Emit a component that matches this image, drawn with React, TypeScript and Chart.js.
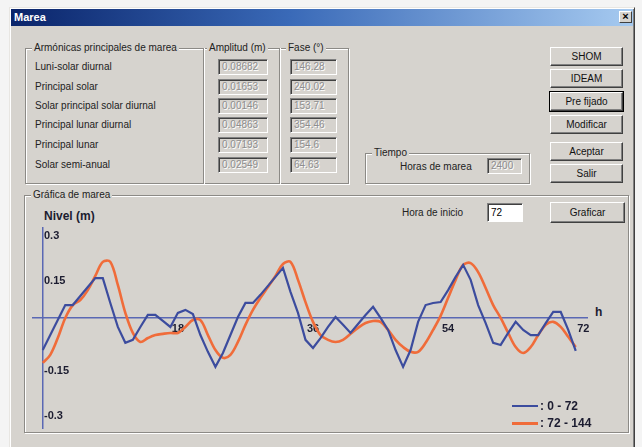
import React, { useEffect, useRef } from "react";
import { Chart, registerables } from "chart.js";

Chart.register(...registerables);

// ---------- data ----------
const hours = [
  0, 1, 2, 3, 4, 5, 6, 7, 8, 9, 10, 11, 12, 13, 14, 15, 16, 17, 18, 19, 20, 21, 22, 23,
  24, 25, 26, 27, 28, 29, 30, 31, 32, 33, 34, 35, 36, 37, 38, 39, 40, 41, 42, 43, 44, 45, 46, 47,
  48, 49, 50, 51, 52, 53, 54, 55, 56, 57, 58, 59, 60, 61, 62, 63, 64, 65, 66, 67, 68, 69, 70, 71,
];

// Nivel (m), horas 0 - 72
const serie0a72 = [
  -0.107, -0.057, -0.007, 0.043, 0.043, 0.073, 0.103, 0.133, 0.133, 0.05, -0.03, -0.083,
  -0.073, -0.03, 0.01, 0.01, -0.01, -0.03, 0.017, 0.027, 0.013, -0.057, -0.113, -0.163,
  -0.117, -0.057, 0.003, 0.05, 0.05, 0.077, 0.107, 0.137, 0.167, 0.087, 0.017, -0.073,
  -0.1, -0.067, -0.03, 0.003, -0.023, -0.05, -0.02, 0.01, 0.037, 0.0, -0.04, -0.107,
  -0.163, -0.107, -0.013, 0.043, 0.05, 0.053, 0.093, 0.137, 0.177, 0.127, 0.043, -0.017,
  -0.083, -0.09, -0.05, -0.013, -0.04, -0.057, -0.057, -0.017, 0.02, 0.02, -0.04, -0.11,
];

// Nivel (m), horas 72 - 144
const serie72a144 = [
  -0.15, -0.123, -0.067, 0.0, 0.043, 0.06, 0.093, 0.14, 0.187, 0.187, 0.11, 0.017,
  -0.05, -0.08, -0.067, -0.057, -0.053, -0.05, -0.05, -0.03, -0.007, -0.007, -0.057, -0.107,
  -0.133, -0.123, -0.08, -0.023, 0.027, 0.067, 0.103, 0.14, 0.18, 0.187, 0.127, 0.053,
  -0.013, -0.057, -0.073, -0.08, -0.073, -0.053, -0.033, -0.017, -0.01, -0.013, -0.04, -0.073,
  -0.097, -0.113, -0.113, -0.083, -0.04, 0.007, 0.067, 0.127, 0.177, 0.183, 0.153, 0.1,
  0.043, 0.0, -0.05, -0.097, -0.117, -0.097, -0.057, -0.023, -0.013, -0.03, -0.063, -0.097,
];

const seriesLabels = [": 0 - 72", ": 72 - 144"];
const xTickValues = [18, 36, 54, 72];
const yTickValues = [-0.3, -0.15, 0, 0.15, 0.3];
const yTickLabels = ["-0.3", "-0.15", "", "0.15", "0.3"];

const armonicas = [
  "Luni-solar diurnal",
  "Principal solar",
  "Solar principal solar diurnal",
  "Principal lunar diurnal",
  "Principal lunar",
  "Solar semi-anual",
];
const amplitudes = ["0.08682", "0.01653", "0.00146", "0.04863", "0.07193", "0.02549"];
const fases = ["146.28", "240.02", "153.71", "354.46", "154.6", "64.63"];
const botones = ["SHOM", "IDEAM", "Pre fijado", "Modificar", "Aceptar", "Salir"];

// ---------- styles ----------
const GREY = "#d6d3ce";
const BLUE = "#3c4c9e";
const ORANGE = "#f06c3a";
const AXIS = "#5a68b4";
const FONT = "'Liberation Sans', Arial, sans-serif";

const abs = (x: number, y: number, w?: number, h?: number): React.CSSProperties => ({
  position: "absolute",
  left: x,
  top: y,
  width: w,
  height: h,
  boxSizing: "border-box",
});

function Group(props: { x: number; y: number; w: number; h: number; label: string }) {
  const { x, y, w, h, label } = props;
  return (
    <>
      <div
        style={{
          ...abs(x, y, w, h),
          border: "1px solid #8c8a86",
          boxShadow: "inset 1px 1px 0 #fff, 1px 1px 0 #fff",
        }}
      />
      <div
        style={{
          ...abs(x + 7, y - 7),
          background: GREY,
          padding: "0 2px",
          fontSize: 10,
          color: "#222",
          whiteSpace: "nowrap",
          lineHeight: "13px",
        }}
      >
        {label}
      </div>
    </>
  );
}

function Field(props: { x: number; y: number; w: number; h: number; value: string; enabled?: boolean }) {
  const { x, y, w, h, value, enabled } = props;
  return (
    <div
      style={{
        ...abs(x, y, w, h),
        background: enabled ? "#fff" : GREY,
        borderTop: "1px solid #808080",
        borderLeft: "1px solid #808080",
        borderRight: "1px solid #fff",
        borderBottom: "1px solid #fff",
        boxShadow: "inset 1px 1px 0 #404040",
        fontSize: 10,
        color: enabled ? "#000" : "#8e8e8e",
        textShadow: enabled ? "none" : "1px 1px 0 #fff",
        paddingLeft: 3,
        lineHeight: `${h - 2}px`,
        whiteSpace: "nowrap",
        overflow: "hidden",
      }}
    >
      {value}
    </div>
  );
}

function Button(props: { x: number; y: number; w: number; h: number; label: string; isDefault?: boolean }) {
  const { x, y, w, h, label, isDefault } = props;
  return (
    <div
      style={{
        ...abs(x, y, w, h),
        background: GREY,
        borderTop: "1px solid #fff",
        borderLeft: "1px solid #fff",
        borderRight: "1px solid #404040",
        borderBottom: "1px solid #404040",
        boxShadow: isDefault ? "inset -1px -1px 0 #808080, 0 0 0 1px #000" : "inset -1px -1px 0 #808080",
        fontSize: 10,
        color: "#111",
        textAlign: "center",
        lineHeight: `${h - 2}px`,
      }}
    >
      {label}
    </div>
  );
}

function TideChart() {
  const ref = useRef<HTMLCanvasElement | null>(null);
  useEffect(() => {
    if (!ref.current) return;
    const tickFont = { family: FONT, size: 11, weight: "bold" as const };
    const chart = new Chart(ref.current, {
      type: "line",
      data: {
        datasets: [
          {
            label: seriesLabels[0],
            data: hours.map((h, i) => ({ x: h, y: serie0a72[i] })),
            borderColor: BLUE,
            borderWidth: 2.2,
            pointRadius: 0,
            tension: 0,
            fill: false,
          },
          {
            label: seriesLabels[1],
            data: hours.map((h, i) => ({ x: h, y: serie72a144[i] })),
            borderColor: ORANGE,
            borderWidth: 2.6,
            pointRadius: 0,
            tension: 0.35,
            fill: false,
          },
        ],
      },
      options: {
        animation: false,
        responsive: true,
        maintainAspectRatio: false,
        layout: { padding: { left: 11, right: 36, top: 20, bottom: 20 } },
        plugins: { legend: { display: false }, tooltip: { enabled: false } },
        scales: {
          x: {
            type: "linear",
            min: -1.3,
            max: 72.5,
            position: { y: 0 } as any,
            afterBuildTicks: (s: any) => {
              s.ticks = xTickValues.map((v) => ({ value: v }));
            },
            ticks: { font: tickFont, color: "#1c1c30", padding: 4, autoSkip: false, maxRotation: 0 },
            grid: { drawOnChartArea: false, drawTicks: false },
            border: { color: AXIS, width: 1.5 },
          },
          y: {
            type: "linear",
            min: -0.367,
            max: 0.3,
            position: { x: 0 } as any,
            afterBuildTicks: (s: any) => {
              s.ticks = yTickValues.map((v) => ({ value: v }));
            },
            ticks: { display: false },
            grid: { drawOnChartArea: false, drawTicks: false },
            border: { color: AXIS, width: 1.5 },
          },
          yLabels: {
            type: "linear",
            min: -0.367,
            max: 0.3,
            position: "left",
            afterBuildTicks: (s: any) => {
              s.ticks = yTickValues.map((v) => ({ value: v }));
            },
            ticks: {
              mirror: true,
              padding: 11,
              labelOffset: 8,
              font: tickFont,
              color: "#1c1c30",
              autoSkip: false,
              callback: (_v: any, i: number) => yTickLabels[i],
            },
            grid: { display: false, drawTicks: false },
            border: { display: false },
          },
        },
      },
    });
    return () => chart.destroy();
  }, []);
  return (
    <div style={{ ...abs(0, 208, 623, 240) }}>
      <canvas ref={ref} />
    </div>
  );
}

export default function App() {
  const rowY = [67, 87, 106, 125, 145, 165];
  const btnY = [47, 69, 92, 115, 142, 164];
  return (
    <div
      style={{
        position: "fixed",
        left: 0,
        top: 0,
        width: 642,
        height: 447,
        background: "#f4f4f4",
        fontFamily: FONT,
        overflow: "hidden",
      }}
    >
      {/* window */}
      <div
        style={{
          ...abs(9, 7, 626, 442),
          background: GREY,
          borderTop: "1px solid #e8e6e2",
          borderLeft: "1px solid #e8e6e2",
          borderRight: "1px solid #404040",
          borderBottom: "1px solid #404040",
          boxShadow: "inset 1px 1px 0 #fff, inset -1px -1px 0 #808080",
        }}
      />
      {/* title bar */}
      <div
        style={{
          ...abs(11, 9, 622, 17),
          background: "linear-gradient(to right, #0a246a 0%, #3a6ab8 45%, #a6caf0 100%)",
          color: "#fff",
          fontWeight: "bold",
          fontSize: 11,
          lineHeight: "17px",
          paddingLeft: 3,
        }}
      >
        Marea
      </div>
      <div
        style={{
          ...abs(619, 11, 13, 12),
          background: GREY,
          borderTop: "1px solid #fff",
          borderLeft: "1px solid #fff",
          borderRight: "1px solid #404040",
          borderBottom: "1px solid #404040",
          fontSize: 11,
          fontWeight: "bold",
          lineHeight: "9px",
          textAlign: "center",
          color: "#000",
        }}
      >
        ×
      </div>

      {/* harmonics group */}
      <Group x={25} y={48} w={324} h={136} label="Armónicas principales de marea" />
      <div style={{ ...abs(203, 48, 2, 136), borderLeft: "1px solid #8c8a86", borderRight: "1px solid #fff" }} />
      <div style={{ ...abs(279, 48, 2, 136), borderLeft: "1px solid #8c8a86", borderRight: "1px solid #fff" }} />
      <div style={{ ...abs(207, 41), background: GREY, padding: "0 2px", fontSize: 10, lineHeight: "13px", color: "#222" }}>
        Amplitud (m)
      </div>
      <div style={{ ...abs(286, 41), background: GREY, padding: "0 2px", fontSize: 10, lineHeight: "13px", color: "#222" }}>
        Fase (°)
      </div>
      {armonicas.map((a, i) => (
        <div key={a} style={{ ...abs(35, rowY[i] - 7), fontSize: 10, lineHeight: "14px", color: "#222", whiteSpace: "nowrap" }}>
          {a}
        </div>
      ))}
      {amplitudes.map((v, i) => (
        <Field key={"a" + i} x={218} y={rowY[i] - 8} w={50} h={16} value={v} />
      ))}
      {fases.map((v, i) => (
        <Field key={"f" + i} x={290} y={rowY[i] - 8} w={47} h={16} value={v} />
      ))}

      {/* tiempo group */}
      <Group x={365} y={153} w={165} h={31} label="Tiempo" />
      <div style={{ ...abs(400, 160), fontSize: 10, lineHeight: "14px", color: "#222" }}>Horas de marea</div>
      <Field x={487} y={158} w={35} h={16} value="2400" />

      {/* buttons */}
      {botones.map((b, i) => (
        <Button key={b} x={550} y={btnY[i]} w={73} h={19} label={b} isDefault={b === "Pre fijado"} />
      ))}

      {/* chart group */}
      <Group x={24} y={195} w={605} h={238} label="Gráfica de marea" />
      <div style={{ ...abs(402, 206), fontSize: 10, lineHeight: "14px", color: "#222" }}>Hora de inicio</div>
      <Field x={487} y={203} w={36} h={19} value="72" enabled />
      <Button x={550} y={202} w={75} h={21} label="Graficar" />

      <div style={{ ...abs(44, 209), fontSize: 12, fontWeight: "bold", color: "#1c1c30", lineHeight: "14px" }}>
        Nivel (m)
      </div>
      <div style={{ ...abs(595, 305), fontSize: 12, fontWeight: "bold", color: "#1c1c30", lineHeight: "14px" }}>h</div>

      <TideChart />

      {/* legend */}
      {[BLUE, ORANGE].map((c, i) => (
        <React.Fragment key={c}>
          <div style={{ ...abs(512, (i === 0 ? 406 : 423) - 1, 26, i === 0 ? 2 : 3), background: c }} />
          <div
            style={{
              ...abs(540, (i === 0 ? 406 : 423) - 7),
              fontSize: 12,
              fontWeight: "bold",
              color: "#1c1c30",
              lineHeight: "14px",
              whiteSpace: "pre",
            }}
          >
            {seriesLabels[i]}
          </div>
        </React.Fragment>
      ))}
    </div>
  );
}
